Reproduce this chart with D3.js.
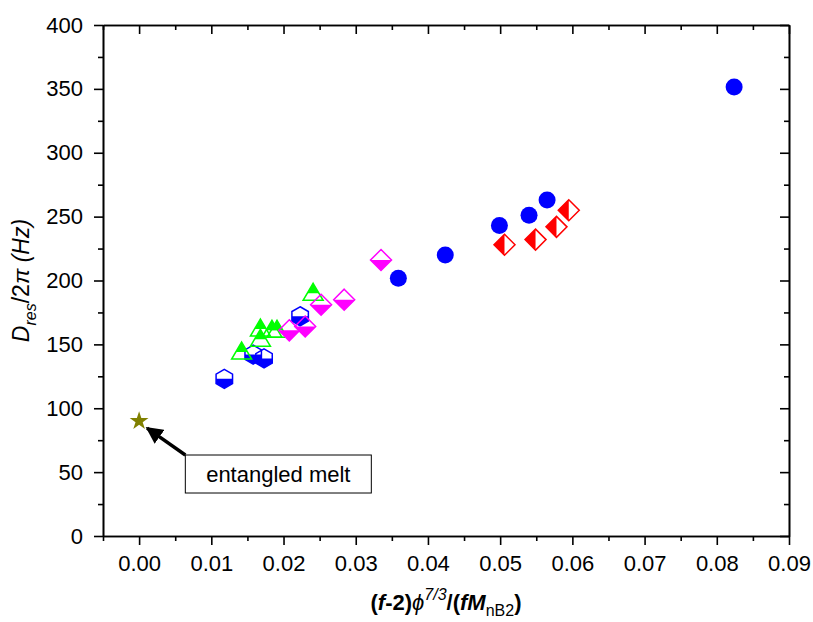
<!DOCTYPE html>
<html>
<head>
<meta charset="utf-8">
<script src="https://cdn.jsdelivr.net/npm/d3@7"></script>
<style>
  body { margin: 0; background: #fff; }
  text { font-family: "Liberation Sans", Arial, sans-serif; }
</style>
</head>
<body>
<div id="chart"></div>
<script>
// data
var circleX = [0.0359, 0.0424, 0.0499, 0.0540, 0.0565, 0.0824];
var circleY = [201.7, 220, 243, 251, 263, 351.5];

var redX = [0.0506, 0.0549, 0.0578, 0.0595];
var redY = [228, 232, 242, 255];

var magentaX = [0.0208, 0.0230, 0.0252, 0.0284, 0.0335];
var magentaY = [161, 164, 181, 185, 216];

var greenX = [0.0142, 0.0168, 0.0168, 0.0184, 0.0191, 0.0241];
var greenY = [144, 162, 154, 161, 161, 190];

var hexX = [0.0118, 0.0158, 0.0173, 0.0223];
var hexY = [123, 142, 139, 172];

var starX = [0.0];
var starY = [90];

var xTicks = [0, 0.01, 0.02, 0.03, 0.04, 0.05, 0.06, 0.07, 0.08, 0.09];
var yTicks = [0, 50, 100, 150, 200, 250, 300, 350, 400];

var svgWidth = 813;
var svgHeight = 622;
var margin = { top: 25, right: 24, bottom: 86, left: 103 };
var chartWidth = svgWidth - margin.left - margin.right;
var chartHeight = svgHeight - margin.top - margin.bottom;

var svg = d3.select("#chart").append("svg")
  .attr("width", svgWidth)
  .attr("height", svgHeight);

var defs = svg.append("defs");
defs.append("clipPath").attr("id", "cTop").append("rect")
  .attr("x", -20).attr("y", -20).attr("width", 40).attr("height", 20);
defs.append("clipPath").attr("id", "cBottom").append("rect")
  .attr("x", -20).attr("y", 0).attr("width", 40).attr("height", 20);
defs.append("clipPath").attr("id", "cLeft").append("rect")
  .attr("x", -20).attr("y", -20).attr("width", 20).attr("height", 40);
defs.append("marker").attr("id", "arrowHead")
  .attr("viewBox", "0 0 10 10").attr("refX", 9).attr("refY", 5)
  .attr("markerWidth", 5).attr("markerHeight", 5).attr("orient", "auto")
  .append("path").attr("d", "M0,0 L10,5 L0,10 z").attr("fill", "#000");

var chartGroup = svg.append("g")
  .attr("transform", `translate(${margin.left}, ${margin.top})`);

var x = d3.scaleLinear().domain([-0.005, 0.09]).range([0, chartWidth]);
var y = d3.scaleLinear().domain([0, 400]).range([chartHeight, 0]);

var minorX = d3.range(-0.005, 0.09, 0.01);
var minorY = d3.range(25, 400, 50);

// axes: bottom/left outward, top/right inward
function styleAxis(g) {
  g.select(".domain").attr("stroke", "#000").attr("stroke-width", 1.6);
  g.selectAll(".tick line").attr("stroke", "#000").attr("stroke-width", 1.6);
}

chartGroup.append("g")
  .attr("transform", `translate(0, ${chartHeight})`)
  .call(d3.axisBottom(x).tickValues(minorX).tickSize(5).tickFormat("").tickSizeOuter(0))
  .call(styleAxis);
chartGroup.append("g")
  .attr("transform", `translate(0, ${chartHeight})`)
  .call(d3.axisBottom(x).tickValues(xTicks).tickSize(9).tickSizeOuter(0)
    .tickFormat(d3.format(".2f")).tickPadding(10))
  .call(styleAxis)
  .selectAll("text").attr("font-size", 22).attr("fill", "#000")
  .attr("font-family", "Liberation Sans, Arial, sans-serif");

chartGroup.append("g")
  .call(d3.axisLeft(y).tickValues(minorY).tickSize(5).tickFormat("").tickSizeOuter(0))
  .call(styleAxis);
chartGroup.append("g")
  .call(d3.axisLeft(y).tickValues(yTicks).tickSize(9).tickSizeOuter(0).tickPadding(11))
  .call(styleAxis)
  .selectAll("text").attr("font-size", 22).attr("fill", "#000")
  .attr("font-family", "Liberation Sans, Arial, sans-serif");

chartGroup.append("g")
  .call(d3.axisTop(x).tickValues(minorX).tickSize(-5).tickFormat("").tickSizeOuter(0))
  .call(styleAxis);
chartGroup.append("g")
  .call(d3.axisTop(x).tickValues(xTicks).tickSize(-9).tickFormat("").tickSizeOuter(0))
  .call(styleAxis);
chartGroup.append("g")
  .attr("transform", `translate(${chartWidth}, 0)`)
  .call(d3.axisRight(y).tickValues(minorY).tickSize(-5).tickFormat("").tickSizeOuter(0))
  .call(styleAxis);
chartGroup.append("g")
  .attr("transform", `translate(${chartWidth}, 0)`)
  .call(d3.axisRight(y).tickValues(yTicks).tickSize(-9).tickFormat("").tickSizeOuter(0))
  .call(styleAxis);

function pairs(xs, ys) {
  return xs.map(function (v, i) { return { x: v, y: ys[i] }; });
}

var sw = 1.5;

// half-filled marker helper
function halfMarkers(data, shape, color, clipId) {
  var g = chartGroup.selectAll(null).data(data).enter().append("g")
    .attr("transform", d => `translate(${x(d.x)}, ${y(d.y)})`);
  g.append("path").attr("d", shape).attr("fill", color).attr("stroke", "none")
    .attr("clip-path", `url(#${clipId})`);
  g.append("path").attr("d", shape).attr("fill", "none")
    .attr("stroke", color).attr("stroke-width", sw).attr("stroke-linejoin", "miter");
}

var diamond = "M0,-10.5 L10.5,0 L0,10.5 L-10.5,0 Z";
var triangle = "M0,-10 L10,7 L-10,7 Z";
var hexPts = d3.range(6).map(function (i) {
  var a = -Math.PI / 2 + i * Math.PI / 3;
  return [9.5 * Math.cos(a), 9.5 * Math.sin(a)];
});
var hexagon = "M" + hexPts.map(p => p.join(",")).join("L") + "Z";

halfMarkers(pairs(hexX, hexY), hexagon, "#0000ff", "cBottom");
halfMarkers(pairs(greenX, greenY), triangle, "#00ff00", "cTop");
halfMarkers(pairs(magentaX, magentaY), diamond, "#ff00ff", "cBottom");
halfMarkers(pairs(redX, redY), diamond, "#ff0000", "cLeft");

chartGroup.selectAll(".dot").data(pairs(circleX, circleY)).enter()
  .append("circle")
  .attr("cx", d => x(d.x))
  .attr("cy", d => y(d.y))
  .attr("r", 8.5)
  .attr("fill", "#0000ff");

chartGroup.selectAll(".star").data(pairs(starX, starY)).enter()
  .append("path")
  .attr("transform", d => `translate(${x(d.x)}, ${y(d.y)})`)
  .attr("d", d3.symbol().type(d3.symbolStar).size(110))
  .attr("fill", "#808000");

// annotation
var tip = { x: 0.0011, y: 84.5 };
var boxCorner = { x: 0.0064, y: 63.4 };
chartGroup.append("line")
  .attr("x1", x(boxCorner.x)).attr("y1", y(boxCorner.y))
  .attr("x2", x(tip.x)).attr("y2", y(tip.y))
  .attr("stroke", "#000").attr("stroke-width", 3.4)
  .attr("marker-end", "url(#arrowHead)");
chartGroup.append("rect")
  .attr("x", x(boxCorner.x)).attr("y", y(boxCorner.y))
  .attr("width", 186).attr("height", 38)
  .attr("fill", "#fff").attr("stroke", "#000").attr("stroke-width", 1);
chartGroup.append("text")
  .attr("x", x(boxCorner.x) + 93).attr("y", y(boxCorner.y) + 27)
  .attr("text-anchor", "middle").attr("font-size", 22)
  .text("entangled melt");

// axis titles
var xt = svg.append("text")
  .attr("x", margin.left + x(0.0425)).attr("y", 610)
  .attr("text-anchor", "middle").attr("font-size", 22).attr("font-weight", "bold");
xt.append("tspan").text("(");
xt.append("tspan").attr("font-style", "italic").text("f");
xt.append("tspan").text("-2)");
xt.append("tspan").attr("font-style", "italic").attr("font-weight", "normal").text("\u03d5");
xt.append("tspan").attr("font-style", "italic").attr("font-weight", "normal")
  .attr("font-size", 16).attr("dy", -10).text("7/3");
xt.append("tspan").attr("dy", 10).text("/(");
xt.append("tspan").attr("font-style", "italic").text("fM");
xt.append("tspan").attr("font-weight", "normal").attr("font-size", 16).attr("dy", 6).text("nB2");
xt.append("tspan").attr("dy", -6).text(")");

var yt = svg.append("text")
  .attr("transform", `translate(29, ${margin.top + chartHeight / 2}) rotate(-90)`)
  .attr("text-anchor", "middle").attr("font-size", 23);
yt.append("tspan").attr("font-style", "italic").text("D");
yt.append("tspan").attr("font-style", "italic").attr("font-size", 16).attr("dy", 7).text("res");
yt.append("tspan").attr("dy", -7).text("/2");
yt.append("tspan").attr("font-style", "italic").text("\u03c0 (Hz)");
</script>
</body>
</html>
